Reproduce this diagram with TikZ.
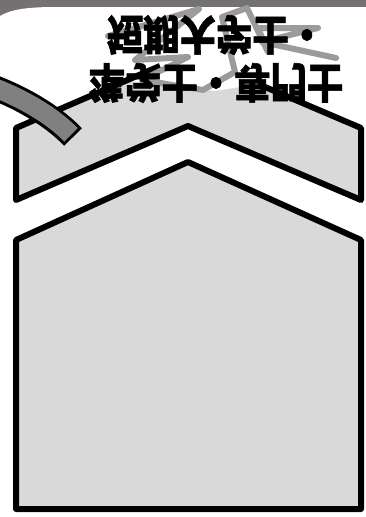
\documentclass[tikz,border=0pt]{standalone}
\usepackage{fontspec}
\newfontfamily\cjk{Noto Sans CJK JP}[FakeBold=1.5]
\definecolor{bandgray}{HTML}{767171}
\definecolor{housefill}{HTML}{D9D9D9}
\definecolor{arcgray}{HTML}{808080}
\definecolor{zzgray}{HTML}{9B9B9B}
\tikzset{
  outline/.style={line width=6pt, line join=round, draw=black},
  label/.style={inner sep=0pt, yscale=-1.15, xscale=1.01, transform shape, font=\cjk\bfseries\fontsize{36}{36}\selectfont}
}
\begin{document}
\begin{tikzpicture}[x=1pt,y=-1pt]
\useasboundingbox (0,0) rectangle (366,517);
% top band and white sheet
\fill[bandgray] (0,0) rectangle (366,30);
\fill[white] (0,517) -- (0,16) .. controls (10,10) and (25,7) .. (55,7) -- (366,7) -- (366,517) -- cycle;
% lower house
\filldraw[outline, fill=housefill] (16,240) -- (188,162) -- (361,240) -- (361,509) -- (16,509) -- cycle;
% upper chevron fill
\fill[housefill] (16,128) -- (188,54) -- (361,128) -- (361,200) -- (188,126) -- (16,200) -- cycle;
% white patch over the peak
\fill[white] (95,77) -- (215,91) -- (258,84) -- (258,30) -- (95,30) -- cycle;
% upper chevron outline (visible parts)
\draw[outline] (160,66) -- (16,128) -- (16,200) -- (188,126) -- (361,200) -- (361,128) -- (258,84);
% gray curved band
\draw[line width=25pt, black] (-10,86) .. controls (20,97) and (52,115) .. (73,137);
\draw[line width=19pt, arcgray, shorten >=3pt] (-10,86) .. controls (20,97) and (52,115) .. (73,137);
% zigzag scribble
\draw[zzgray, line width=6pt, line join=round, line cap=round]
  (108,36) -- (199,9) -- (135,60) -- (188,57) -- (142,80) -- (203,90) -- (235,72)
  -- (222,17) -- (247,8) -- (268,52) -- (258,28) -- (318,28) -- (262,42) -- (336,58);
% flipped text
\node[label] (l1) at (216,35) {短期大学士・};
\node[label] (l2) at (216,83) {準学士・専門士};
\end{tikzpicture}
\end{document}
